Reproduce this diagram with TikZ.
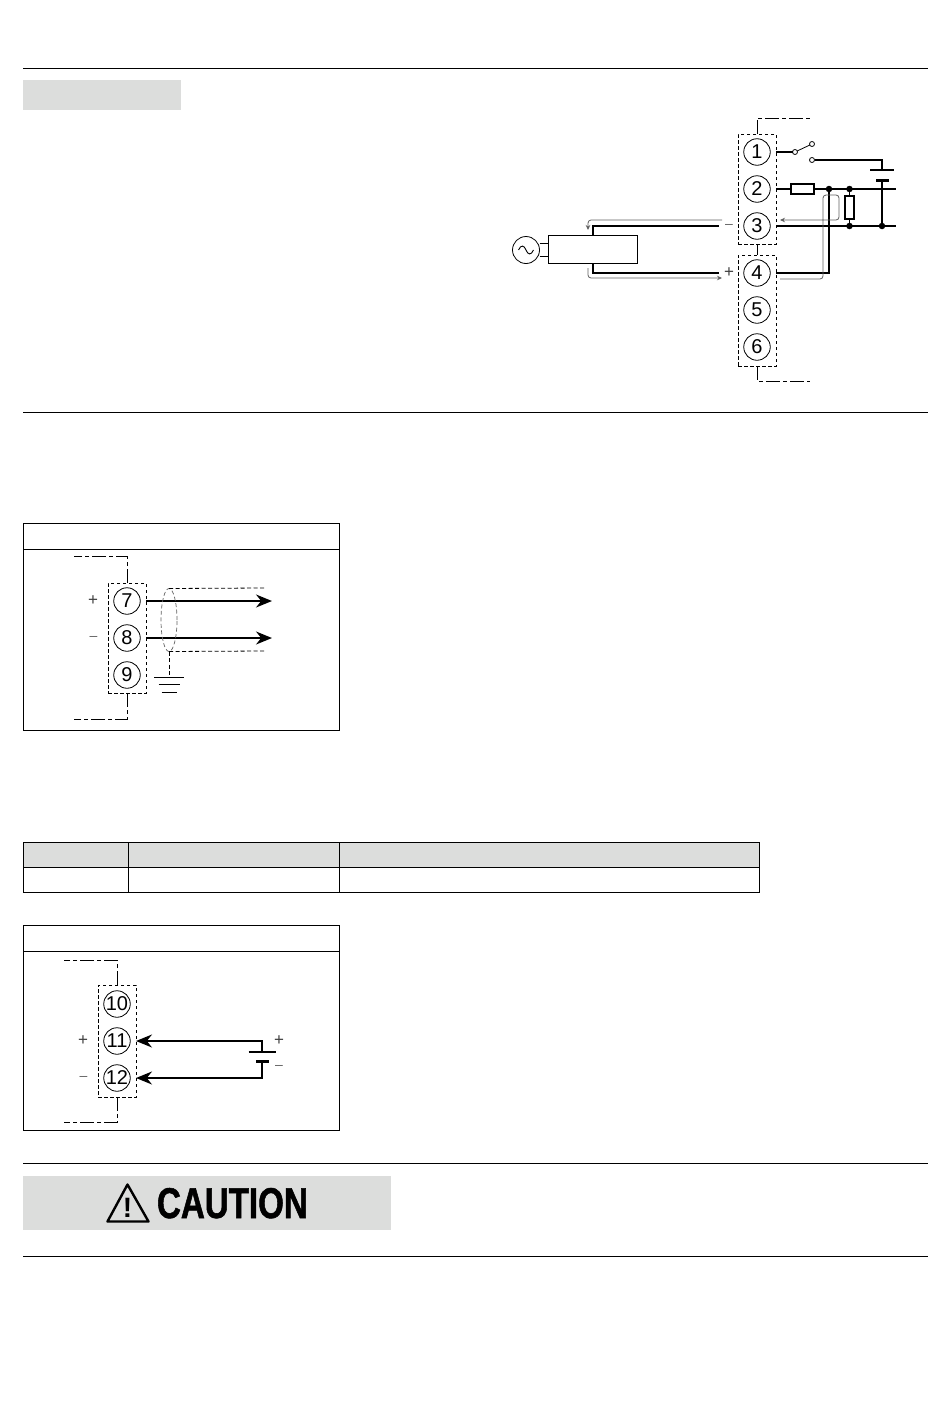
\documentclass[tikz,border=0pt]{standalone}
\usepackage{fontspec}
\setmainfont{Liberation Sans}
\newfontfamily\cautionfont[FakeStretch=0.77,BoldFeatures={FakeBold=1.2}]{Liberation Sans}
\usetikzlibrary{arrows.meta,shapes.geometric,calc}
\definecolor{bandgray}{HTML}{DCDDDC}
\definecolor{flowgray}{HTML}{606060}
\definecolor{signgray}{HTML}{404040}

\begin{document}
\begin{tikzpicture}
    [x=1pt, y=-1pt,
    every node/.style={inner sep=0pt, outer sep=0pt},
    termnode/.style={circle, draw, line width=.8pt, minimum size=26.5pt, font=\fontsize{20}{20}\selectfont},
    dashbox/.style={draw, dashed, dash pattern=on 3.5pt off 2.5pt, line width=.8pt, minimum width=38pt},
    leader/.style={line width=.8pt, dash pattern=on 14pt off 3pt on 4pt off 3pt},
    wire/.style={line width=1.7pt},
    flow/.style={draw=flowgray, line width=.8pt, rounded corners=3pt},
    flowtip/.style={-{Stealth[length=5pt,width=4.5pt,flowgray]}},
    bigarrow/.style={wire, -{Stealth[length=16pt,width=13pt]}},
    smallpin/.style={circle, draw, fill=white, line width=.8pt, minimum size=5pt},
    dotnode/.style={circle, fill=black, minimum size=6.5pt},
    resnode/.style={draw, line width=1.3pt, fill=white},
    signnode/.style={font=\fontsize{17}{17}\selectfont, text=signgray},
    minusnode/.style={font=\fontsize{14}{14}\selectfont, text=flowgray},
    panel/.style={draw, line width=.9pt, minimum width=315.5pt},
    rule/.style={line width=.8pt}
    ]
    \useasboundingbox (0,0) rectangle (950,1408);

    % page rules and bands
    \foreach \ypos in {68,412,1163,1256}
        \draw[rule] (23,\ypos) -- (928,\ypos);
    \fill[bandgray] (23,80) rectangle (181,110);

    % relay wiring
    \node[dashbox, minimum height=110pt] (boxa) at (757,189) {};
    \node[dashbox, minimum height=111pt] (boxb) at (757,310.5) {};
    \foreach \num/\ypos in {1/152,2/189,3/226,4/273,5/310,6/347}
        \node[termnode] (t\num) at (757,\ypos) {\num};
    \draw[line width=.8pt] (boxa) -- (boxb);
    \coordinate (topa) at (810,118);
    \coordinate (topb) at (810,381);
    \draw[leader] (boxa.north) |- (topa);
    \draw[leader] (boxb.south) |- (topb);

    \node[smallpin] (pinc) at (795,152) {};
    \node[smallpin] (pinu) at (812,144) {};
    \node[smallpin] (pinl) at (812,160) {};
    \node[draw, fill=black, minimum width=12pt, minimum height=2pt] (cellb) at (882,180) {};
    \coordinate (cella) at (882,170);
    \coordinate (ends) at (896,189);
    \coordinate (endr) at (896,226);
    \node[dotnode] (ja) at (829,189) {};
    \node[dotnode] (jb) at (849.5,189) {};
    \node[dotnode] (jc) at (849.5,226) {};
    \node[dotnode] (jd) at (882,226) {};
    \node[resnode, minimum width=23pt, minimum height=10pt] (rsh) at (802.5,189) {};
    \node[resnode, minimum width=9pt, minimum height=23pt] (rsv) at (849.5,207.5) {};

    \draw[wire] (boxa.east |- t1) -- (pinc);
    \draw[line width=.8pt] (pinc) -- (pinu);
    \draw[wire] (pinl) -| (cella);
    \draw[wire] ($(cella)+(-12,0)$) -- ($(cella)+(12,0)$);
    \draw[wire] (cellb) -- (jd);
    \draw[wire] (boxa.east |- t2) -- (rsh);
    \draw[wire] (rsh) -- (ends);
    \draw[wire] (jb) -- (rsv);
    \draw[wire] (rsv) -- (jc);
    \draw[wire] (boxa.east |- t3) -- (endr);
    \draw[wire] (boxb.east |- t4) -| (ja);

    % source side
    \node[circle, draw, line width=.8pt, minimum size=27pt] (acs) at (526,250) {};
    \draw[line width=.9pt] (518.5,250) .. controls (521,244.5) and (524,245) .. (526,250) .. controls (528,255) and (531,255.5) .. (533.5,250);
    \node[draw, fill=white, line width=.9pt, minimum width=89pt, minimum height=28pt] (conv) at (592.5,249) {};
    \draw[line width=.8pt] (acs.east |- 0,243) -- (conv.west |- 0,243);
    \draw[line width=.8pt] (acs.east |- 0,256) -- (conv.west |- 0,256);
    \node[minusnode] (mns) at (729,226) {--};
    \node[signnode] (pls) at (729,273) {+};
    \coordinate (wm) at (719,226);
    \coordinate (wp) at (719,273);
    \draw[wire] (conv.north -| 593,0) |- (wm);
    \draw[wire] (conv.south -| 593,0) |- (wp);

    % current loops
    \draw[flow, flowtip] (722,220) -- (588,220) -- (588,230);
    \draw[flow, flowtip] (588,268) -- (588,278) -- (722,278);
    \draw[flow, flowtip] (780,279) -- (823,279) -- (823,195) -- (839,195) -- (839,220) -- (780,220);

    % output panel
    \node[panel, minimum height=207pt, anchor=north west] (pnla) at (23.5,523) {};
    \draw[line width=.9pt] (pnla.west |- 0,549) -- (pnla.east |- 0,549);
    \node[dashbox, minimum height=110pt] (boxc) at (127,638) {};
    \foreach \num/\ypos in {7/601,8/638,9/675}
        \node[termnode] (t\num) at (127,\ypos) {\num};
    \coordinate (topc) at (74,556);
    \coordinate (botc) at (74,719);
    \draw[leader] (boxc.north) |- (topc);
    \draw[leader] (boxc.south) |- (botc);
    \node[signnode] (plc) at (93,601) {+};
    \node[minusnode] (mnc) at (93.5,638) {--};
    \coordinate (ena) at (272,601);
    \coordinate (enb) at (272,638);
    \draw[bigarrow] (boxc.east |- t7) -- (ena);
    \draw[bigarrow] (boxc.east |- t8) -- (enb);
    \node[ellipse, draw=flowgray, dashed, dash pattern=on 4pt off 2.5pt, line width=.7pt, minimum width=16pt, minimum height=63pt] (shield) at (169,620) {};
    \coordinate (sha) at (264,588);
    \coordinate (shb) at (264,651);
    \coordinate (gnd) at (169,677);
    \draw[dashed, dash pattern=on 4pt off 2.5pt, line width=.8pt] (shield.north) -- (sha);
    \draw[dashed, dash pattern=on 4pt off 2.5pt, line width=.8pt] (shield.south) -- (shb);
    \draw[dashed, dash pattern=on 4pt off 2.5pt, line width=.8pt] (shield.south) -- (gnd);
    \draw[line width=.8pt] ($(gnd)+(-15,0)$) -- ($(gnd)+(15,0)$);
    \draw[line width=.8pt] ($(gnd)+(-10.5,7.5)$) -- ($(gnd)+(10.5,7.5)$);
    \draw[line width=.8pt] ($(gnd)+(-7.5,15)$) -- ($(gnd)+(7.5,15)$);

    % table
    \fill[bandgray] (23.5,842) rectangle (759.5,867);
    \draw[line width=.9pt] (23.5,842) rectangle (759.5,892);
    \draw[line width=.9pt] (23.5,867) -- (759.5,867);
    \foreach \xpos in {128.5,339.5}
        \draw[line width=.9pt] (\xpos,842) -- (\xpos,892);

    % input panel
    \node[panel, minimum height=205pt, anchor=north west] (pnlb) at (23.5,925) {};
    \draw[line width=.9pt] (pnlb.west |- 0,951) -- (pnlb.east |- 0,951);
    \node[dashbox, minimum height=112pt] (boxd) at (117,1041) {};
    \foreach \num/\ypos in {10/1004,11/1041,12/1078}
        \node[termnode] (t\num) at (117,\ypos) {\num};
    \coordinate (topd) at (64,960);
    \coordinate (botd) at (64,1122);
    \draw[leader] (boxd.north) |- (topd);
    \draw[leader] (boxd.south) |- (botd);
    \node[signnode] (pld) at (83,1041) {+};
    \node[minusnode] (mnd) at (83.5,1078) {--};
    \coordinate (cellc) at (262,1052);
    \node[draw, fill=black, minimum width=12pt, minimum height=2pt] (celld) at (262,1061) {};
    \draw[wire] ($(cellc)+(-13.5,0)$) -- ($(cellc)+(13.5,0)$);
    \draw[bigarrow] (cellc) |- (boxd.east |- t11);
    \draw[bigarrow] (celld) |- (boxd.east |- t12);
    \node[signnode] (ple) at (279,1041) {+};
    \node[minusnode] (mne) at (279,1067) {--};

    % caution band
    \fill[bandgray] (23,1176) rectangle (391,1230);
    \coordinate (tria) at (127.5,1184.5);
    \coordinate (trib) at (107.5,1221.5);
    \coordinate (tric) at (148.5,1221.5);
    \draw[line width=2.4pt, line join=round] (tria) -- (trib) -- (tric) -- cycle;
    \node[anchor=base, font=\fontsize{28}{28}\selectfont\bfseries] (excl) at (127.5,1217) {!};
    \node[anchor=base west, font=\fontsize{43}{43}\selectfont\cautionfont\bfseries] (caut) at (157,1218) {CAUTION};
\end{tikzpicture}
\end{document}
